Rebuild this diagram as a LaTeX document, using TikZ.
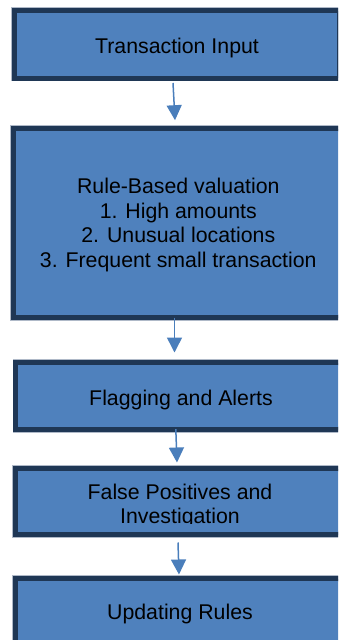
\documentclass[tikz,border=0pt]{standalone}
\usepackage{fontspec}
\setmainfont{Liberation Sans}
\usetikzlibrary{arrows.meta}
\definecolor{boxfill}{RGB}{79,129,189}
\definecolor{boxline}{RGB}{31,55,85}
\definecolor{boxhalo}{RGB}{175,185,200}
\definecolor{arrcol}{RGB}{74,126,187}
\tikzset{
  flowbox/.style={rectangle, fill=boxfill, draw=boxline, line width=5pt,
    preaction={draw=boxhalo, line width=6.4pt}, inner sep=0pt},
  label text/.style={anchor=base, inner sep=0pt, text=black,
    font=\fontsize{21.3}{24.6}\selectfont},
  flowarrow/.style={draw=arrcol, line width=1.5pt,
    -{Triangle[width=15pt,length=15pt]}}
}
\begin{document}
\begin{tikzpicture}[x=1pt,y=-1pt]
\useasboundingbox (0,0) rectangle (338,640);
\clip (0,0) rectangle (338,640);
% boxes
\node[flowbox, minimum width=325pt, minimum height=67.5pt] (b1) at (177,44.25) {};
\node[flowbox, minimum width=329pt, minimum height=189pt] (b2) at (178,223) {};
\node[flowbox, minimum width=330.7pt, minimum height=67pt] (b3) at (181.1,396) {};
\node[flowbox, minimum width=329pt, minimum height=66pt] (b4) at (180,501.5) {};
\node[flowbox, minimum width=329pt, minimum height=66pt] (b5) at (180,611.5) {};
% texts
\node[label text] (t1) at (177,53.3) {Transaction Input};
\node[label text] (t2a) at (178.3,193.3) {Rule-Based valuation};
\node[label text] (t2b) at (178.3,218) {1. High amounts};
\node[label text] (t2c) at (178.3,242.6) {2. Unusual locations};
\node[label text] (t2d) at (178.3,267.2) {3. Frequent small transaction};
\node[label text] (t3) at (181,405.5) {Flagging and Alerts};
\begin{scope}
\clip (0,0) rectangle (338,523.3);
\node[label text] (t4a) at (180,499) {False Positives and};
\node[label text] (t4b) at (180,523.7) {Investigation};
\end{scope}
\node[label text] (t5) at (180,619) {Updating Rules};
% arrows
\draw[flowarrow] ([xshift=-4pt,yshift=-2.5pt]b1.south) -- ([xshift=-3pt,yshift=5.8pt]b2.north);
\draw[flowarrow] ([xshift=-3.5pt,yshift=2.5pt]b2.south) -- ([xshift=-6.6pt,yshift=7.5pt]b3.north);
\draw[flowarrow] ([xshift=-5.3pt,yshift=2.8pt]b3.south) -- ([xshift=-3pt,yshift=3.5pt]b4.north);
\draw[flowarrow] ([xshift=-2pt,yshift=-5.5pt]b4.south) -- ([xshift=-1pt,yshift=1.5pt]b5.north);
\end{tikzpicture}
\end{document}
